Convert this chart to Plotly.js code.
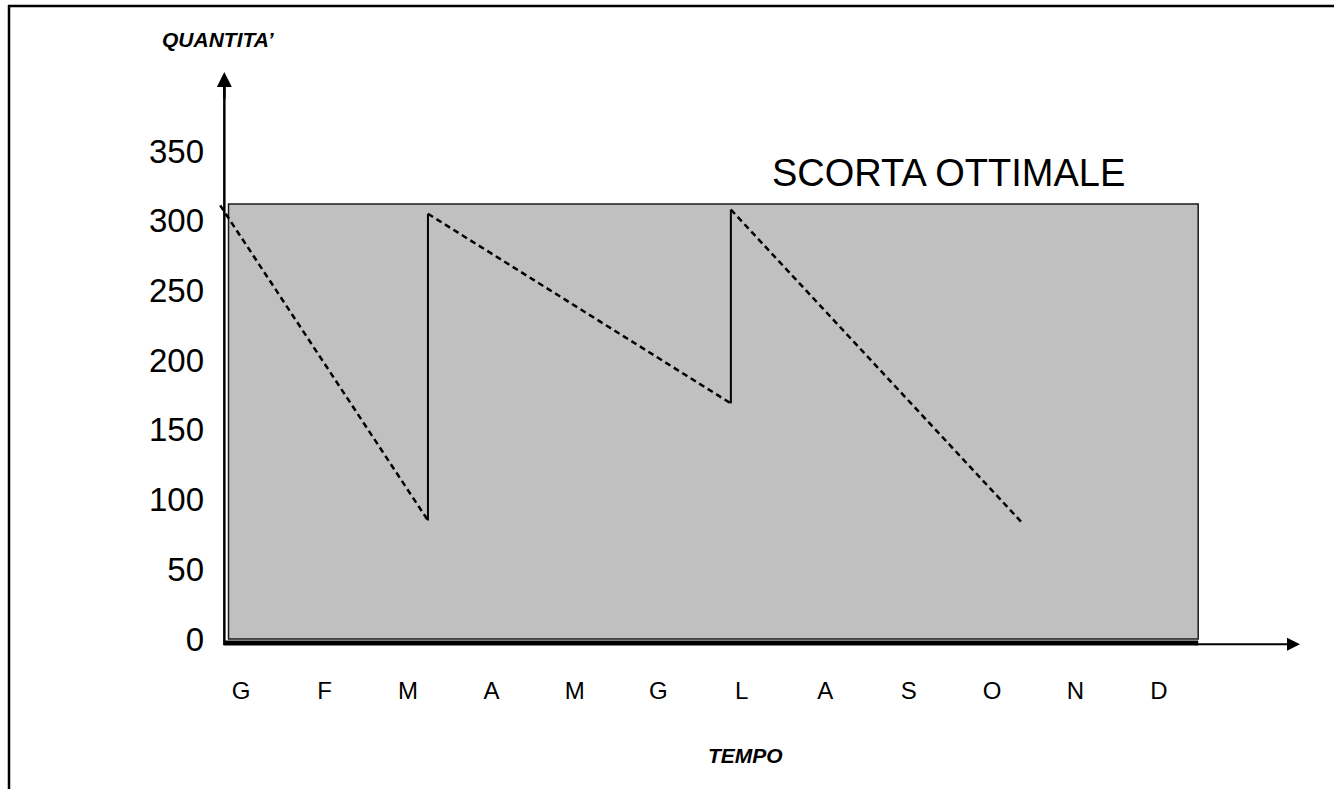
<!DOCTYPE html>
<html>
<head>
<meta charset="utf-8">
<script src="https://cdn.plot.ly/plotly-3.0.1.min.js"></script>
<style>
  html, body { margin: 0; padding: 0; background: #ffffff; }
  #chart { width: 1334px; height: 789px; }
</style>
</head>
<body>
<div id="chart"></div>
<script>
// ---- data ----
const months = ['G', 'F', 'M', 'A', 'M', 'G', 'L', 'A', 'S', 'O', 'N', 'D'];
const monthPos = [1, 2, 3, 4, 5, 6, 7, 8, 9, 10, 11, 12];
const yTicks = [0, 50, 100, 150, 200, 250, 300, 350];

// stock consumption (dashed) segments: time (months) and quantity
const consumoX = [0.75, 3.24, null, 3.24, 6.87, null, 6.87, 10.35];
const consumoY = [311, 85, null, 305, 169, null, 308, 84];
// reorder (solid vertical) segments
const riordinoX = [3.24, 3.24, null, 6.87, 6.87];
const riordinoY = [85, 305, null, 169, 308];
// optimal stock level and span of the shaded area
const scortaOttimale = 312;
const scortaStart = 0.85;
const scortaEnd = 12.47;

// ---- layout geometry ----
const W = 1334, H = 789;
const L = 216, R = 1300, T = 72, B = 660;
const xRange = [0.70, 13.69];
const yRange = [-15.06, 406.7];
const axisX = 0.8;
const axisY = -2.87;
const px = p => (p - L) / (R - L);
const py = p => (B - p) / (B - T);

const traces = [
  {
    x: consumoX, y: consumoY, type: 'scatter', mode: 'lines',
    line: {color: '#000000', width: 2.5, dash: '6px,4px'},
    hoverinfo: 'skip', showlegend: false
  },
  {
    x: riordinoX, y: riordinoY, type: 'scatter', mode: 'lines',
    line: {color: '#000000', width: 2},
    hoverinfo: 'skip', showlegend: false
  }
];

const shapes = [
  // optimal stock area
  {type: 'rect', xref: 'x', yref: 'y', x0: scortaStart, x1: scortaEnd, y0: 0, y1: scortaOttimale,
   fillcolor: '#c0c0c0', line: {color: '#1a1a1a', width: 1.5}, layer: 'below'},
  // y axis line
  {type: 'line', xref: 'x', yref: 'y', x0: axisX, x1: axisX, y0: axisY - 1.6, y1: yRange[1] - 6,
   line: {color: '#000000', width: 2.5}, layer: 'above'},
  // thick x axis line under the area
  {type: 'line', xref: 'x', yref: 'y', x0: axisX, x1: scortaEnd, y0: axisY, y1: axisY,
   line: {color: '#000000', width: 5}, layer: 'above'},
  // page frame
  {type: 'line', xref: 'paper', yref: 'paper', x0: px(8), x1: px(W + 5), y0: py(6), y1: py(6),
   line: {color: '#000000', width: 2.5}},
  {type: 'line', xref: 'paper', yref: 'paper', x0: px(9), x1: px(9), y0: py(5), y1: py(H + 5),
   line: {color: '#000000', width: 2.5}}
];

const annotations = [
  // x axis arrow
  {x: xRange[1], y: axisY - 0.9, ax: scortaEnd - 0.05, ay: axisY - 0.9, xref: 'x', yref: 'y',
   axref: 'x', ayref: 'y', text: '', showarrow: true, arrowhead: 2, arrowsize: 1.3,
   arrowwidth: 2, arrowcolor: '#000000', standoff: 0, startstandoff: 0},
  // y axis arrow
  {x: axisX, y: yRange[1], ax: axisX, ay: yRange[1] - 20, xref: 'x', yref: 'y',
   axref: 'x', ayref: 'y', text: '', showarrow: true, arrowhead: 2, arrowsize: 1.2,
   arrowwidth: 2.5, arrowcolor: '#000000', standoff: 0, startstandoff: 0},
  {x: px(948), y: py(173), xref: 'paper', yref: 'paper', xanchor: 'center', yanchor: 'middle',
   text: 'SCORTA OTTIMALE', showarrow: false,
   font: {family: 'Liberation Sans, Arial, sans-serif', size: 38, color: '#000000'}},
  {x: px(218), y: py(40), xref: 'paper', yref: 'paper', xanchor: 'center', yanchor: 'middle',
   text: "<b><i>QUANTITA’</i></b>", showarrow: false,
   font: {family: 'Liberation Sans, Arial, sans-serif', size: 21, color: '#000000'}},
  {x: px(745), y: py(755), xref: 'paper', yref: 'paper', xanchor: 'center', yanchor: 'middle',
   text: '<b><i>TEMPO</i></b>', showarrow: false,
   font: {family: 'Liberation Sans, Arial, sans-serif', size: 21, color: '#000000'}}
];

const layout = {
  width: W, height: H,
  margin: {l: L, r: W - R, t: T, b: H - B, pad: 0},
  paper_bgcolor: '#ffffff', plot_bgcolor: 'rgba(0,0,0,0)',
  showlegend: false,
  xaxis: {
    range: xRange, tickmode: 'array', tickvals: monthPos, ticktext: months,
    showgrid: false, zeroline: false, showline: false, ticks: '',
    ticklabelstandoff: 14,
    tickfont: {family: 'Liberation Sans, Arial, sans-serif', size: 24, color: '#000000'},
    fixedrange: true
  },
  yaxis: {
    range: yRange, tickmode: 'array', tickvals: yTicks, ticktext: yTicks.map(String),
    showgrid: false, zeroline: false, showline: false, ticks: '',
    ticklabelstandoff: 11,
    tickfont: {family: 'Liberation Sans, Arial, sans-serif', size: 33, color: '#000000'},
    fixedrange: true
  },
  shapes: shapes,
  annotations: annotations
};

Plotly.newPlot('chart', traces, layout, {displayModeBar: false, staticPlot: true});
</script>
</body>
</html>
